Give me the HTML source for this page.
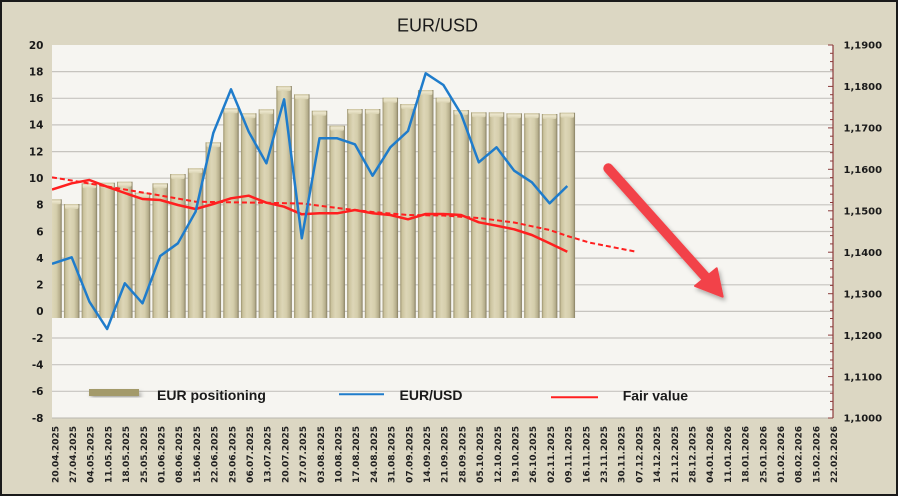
<!DOCTYPE html>
<html><head><meta charset="utf-8">
<style>
html,body{margin:0;padding:0;background:#ffffff;}
svg{display:block;}
text{font-family:"DejaVu Sans","Liberation Sans",sans-serif;}
</style></head>
<body>
<svg width="900" height="498" viewBox="0 0 900 498" xmlns="http://www.w3.org/2000/svg">
<defs>
<linearGradient id="bg" x1="0" y1="0" x2="1" y2="0">
<stop offset="0" stop-color="#9a916c"/>
<stop offset="0.12" stop-color="#cbc39e"/>
<stop offset="0.38" stop-color="#ddd6b7"/>
<stop offset="0.65" stop-color="#d5ceac"/>
<stop offset="0.88" stop-color="#b6ae8c"/>
<stop offset="1" stop-color="#857e62"/>
</linearGradient>
<linearGradient id="cap" x1="0" y1="0" x2="0" y2="1">
<stop offset="0" stop-color="#c9c19c"/>
<stop offset="0.4" stop-color="#ece6cd"/>
<stop offset="1" stop-color="#d9d2b2"/>
</linearGradient>
<clipPath id="plot"><rect x="52" y="45" width="781" height="373"/></clipPath>
<filter id="sh" x="-20%" y="-20%" width="140%" height="140%">
<feDropShadow dx="2" dy="3" stdDeviation="2" flood-color="#000" flood-opacity="0.3"/>
</filter>
</defs>

<rect x="1" y="1" width="896" height="494" fill="#dcd7c3" stroke="#1a1a1a" stroke-width="2"/>
<text x="437.5" y="31.5" text-anchor="middle" font-family="Liberation Sans, sans-serif" font-size="18" fill="#1a1a1a" style="font-family:'Liberation Sans',sans-serif">EUR/USD</text>

<rect x="52" y="45" width="781" height="373" fill="#f6f5f1"/>
<g stroke="#c6c4bf" stroke-width="1.2">
<line x1="52" x2="833" y1="71.6" y2="71.6"/>
<line x1="52" x2="833" y1="98.3" y2="98.3"/>
<line x1="52" x2="833" y1="124.9" y2="124.9"/>
<line x1="52" x2="833" y1="151.6" y2="151.6"/>
<line x1="52" x2="833" y1="178.2" y2="178.2"/>
<line x1="52" x2="833" y1="204.8" y2="204.8"/>
<line x1="52" x2="833" y1="231.5" y2="231.5"/>
<line x1="52" x2="833" y1="258.1" y2="258.1"/>
<line x1="52" x2="833" y1="284.8" y2="284.8"/>
<line x1="52" x2="833" y1="311.4" y2="311.4"/>
<line x1="52" x2="833" y1="338" y2="338"/>
<line x1="52" x2="833" y1="364.7" y2="364.7"/>
<line x1="52" x2="833" y1="391.3" y2="391.3"/>
</g>
<line x1="52" x2="833" y1="418" y2="418" stroke="#b9b7b0" stroke-width="1"/>

<g clip-path="url(#plot)">
<g fill="url(#bg)">
<rect x="46.25" y="199.3" width="15.5" height="118.7"/>
<rect x="63.95" y="204" width="15.5" height="114"/>
<rect x="81.65" y="183.3" width="15.5" height="134.7"/>
<rect x="99.35" y="182.7" width="15.5" height="135.3"/>
<rect x="117.05" y="181.7" width="15.5" height="136.3"/>
<rect x="134.75" y="192.7" width="15.5" height="125.3"/>
<rect x="152.45" y="183.3" width="15.5" height="134.7"/>
<rect x="170.15" y="174" width="15.5" height="144"/>
<rect x="187.85" y="168.3" width="15.5" height="149.7"/>
<rect x="205.55" y="142.3" width="15.5" height="175.7"/>
<rect x="223.25" y="108.3" width="15.5" height="209.7"/>
<rect x="240.95" y="113.3" width="15.5" height="204.7"/>
<rect x="258.65" y="109.3" width="15.5" height="208.7"/>
<rect x="276.35" y="86" width="15.5" height="232"/>
<rect x="294.05" y="94.3" width="15.5" height="223.7"/>
<rect x="311.75" y="110.7" width="15.5" height="207.3"/>
<rect x="329.45" y="125.7" width="15.5" height="192.3"/>
<rect x="347.15" y="109" width="15.5" height="209"/>
<rect x="364.85" y="109" width="15.5" height="209"/>
<rect x="382.55" y="97.7" width="15.5" height="220.3"/>
<rect x="400.25" y="104" width="15.5" height="214"/>
<rect x="417.95" y="90" width="15.5" height="228"/>
<rect x="435.65" y="97.7" width="15.5" height="220.3"/>
<rect x="453.35" y="110" width="15.5" height="208"/>
<rect x="471.05" y="112.3" width="15.5" height="205.7"/>
<rect x="488.75" y="112.3" width="15.5" height="205.7"/>
<rect x="506.45" y="113.3" width="15.5" height="204.7"/>
<rect x="524.15" y="113.3" width="15.5" height="204.7"/>
<rect x="541.85" y="114" width="15.5" height="204"/>
<rect x="559.55" y="112.7" width="15.5" height="205.3"/>
</g>
<g fill="url(#cap)">
<rect x="47.25" y="199.3" width="13.5" height="5" rx="1.5"/>
<rect x="64.95" y="204" width="13.5" height="5" rx="1.5"/>
<rect x="82.65" y="183.3" width="13.5" height="5" rx="1.5"/>
<rect x="100.35" y="182.7" width="13.5" height="5" rx="1.5"/>
<rect x="118.05" y="181.7" width="13.5" height="5" rx="1.5"/>
<rect x="135.75" y="192.7" width="13.5" height="5" rx="1.5"/>
<rect x="153.45" y="183.3" width="13.5" height="5" rx="1.5"/>
<rect x="171.15" y="174" width="13.5" height="5" rx="1.5"/>
<rect x="188.85" y="168.3" width="13.5" height="5" rx="1.5"/>
<rect x="206.55" y="142.3" width="13.5" height="5" rx="1.5"/>
<rect x="224.25" y="108.3" width="13.5" height="5" rx="1.5"/>
<rect x="241.95" y="113.3" width="13.5" height="5" rx="1.5"/>
<rect x="259.65" y="109.3" width="13.5" height="5" rx="1.5"/>
<rect x="277.35" y="86" width="13.5" height="5" rx="1.5"/>
<rect x="295.05" y="94.3" width="13.5" height="5" rx="1.5"/>
<rect x="312.75" y="110.7" width="13.5" height="5" rx="1.5"/>
<rect x="330.45" y="125.7" width="13.5" height="5" rx="1.5"/>
<rect x="348.15" y="109" width="13.5" height="5" rx="1.5"/>
<rect x="365.85" y="109" width="13.5" height="5" rx="1.5"/>
<rect x="383.55" y="97.7" width="13.5" height="5" rx="1.5"/>
<rect x="401.25" y="104" width="13.5" height="5" rx="1.5"/>
<rect x="418.95" y="90" width="13.5" height="5" rx="1.5"/>
<rect x="436.65" y="97.7" width="13.5" height="5" rx="1.5"/>
<rect x="454.35" y="110" width="13.5" height="5" rx="1.5"/>
<rect x="472.05" y="112.3" width="13.5" height="5" rx="1.5"/>
<rect x="489.75" y="112.3" width="13.5" height="5" rx="1.5"/>
<rect x="507.45" y="113.3" width="13.5" height="5" rx="1.5"/>
<rect x="525.15" y="113.3" width="13.5" height="5" rx="1.5"/>
<rect x="542.85" y="114" width="13.5" height="5" rx="1.5"/>
<rect x="560.55" y="112.7" width="13.5" height="5" rx="1.5"/>
</g>

<polyline fill="none" stroke="#ff1f1f" stroke-width="2" stroke-dasharray="5,3"
points="52,177.3 71.7,180.5 89.4,183.5 107.1,186.5 124.8,189.5 142.5,192.5 160.2,195.5 177.9,198.6 195.6,201.7 231,202.3 266.4,202.8 301.8,203.5 337.2,208 372.6,212 408,215 443.4,215.5 478.8,218 514.2,222.5 549.6,230 567.3,236 590,242.7 636,251.7"/>

<polyline fill="none" stroke="#ff1f1f" stroke-width="2.5" stroke-linejoin="round"
points="52,189.5 71.7,183.3 89.4,180 107.1,186.7 124.8,193 142.5,199 160.2,200 177.9,205 195.6,209 213.3,204 231,198.3 248.7,195.7 266.4,202.7 284.1,206.7 301.8,214.3 319.5,213.3 337.2,213.3 354.9,210 372.6,213.3 390.3,215 408,219.3 425.7,214 443.4,214 461.1,215 478.8,222.3 496.5,225.7 514.2,229.3 531.9,235 549.6,243.3 567.3,251.7"/>

<polyline fill="none" stroke="#1f7ccb" stroke-width="2.5" stroke-linejoin="round"
points="52,263.8 71.7,257.3 89.4,301.7 107.1,329 124.8,283.3 142.5,303.3 160.2,256 177.9,243.3 195.6,211.7 213.3,133 231,89.3 248.7,131.7 266.4,163.3 284.1,99.3 301.8,238.3 319.5,138.3 337.2,138.3 354.9,144.3 372.6,175.7 390.3,147.3 408,131 425.7,73.3 443.4,85 461.1,114 478.8,162.3 496.5,147.3 514.2,170.7 531.9,182.3 549.6,203.3 567.3,186"/>
</g>

<!-- right axis -->
<line x1="833" y1="45" x2="833" y2="418" stroke="#8b3a3a" stroke-width="1.2"/>
<g stroke="#8b3a3a" stroke-width="1">
<line x1="828" x2="833" y1="45" y2="45"/><line x1="830" x2="833" y1="53.3" y2="53.3"/><line x1="830" x2="833" y1="61.6" y2="61.6"/><line x1="830" x2="833" y1="69.9" y2="69.9"/><line x1="830" x2="833" y1="78.2" y2="78.2"/>
<line x1="828" x2="833" y1="86.4" y2="86.4"/><line x1="830" x2="833" y1="94.7" y2="94.7"/><line x1="830" x2="833" y1="103" y2="103"/><line x1="830" x2="833" y1="111.3" y2="111.3"/><line x1="830" x2="833" y1="119.6" y2="119.6"/>
<line x1="828" x2="833" y1="127.9" y2="127.9"/><line x1="830" x2="833" y1="136.2" y2="136.2"/><line x1="830" x2="833" y1="144.5" y2="144.5"/><line x1="830" x2="833" y1="152.7" y2="152.7"/><line x1="830" x2="833" y1="161" y2="161"/>
<line x1="828" x2="833" y1="169.3" y2="169.3"/><line x1="830" x2="833" y1="177.6" y2="177.6"/><line x1="830" x2="833" y1="185.9" y2="185.9"/><line x1="830" x2="833" y1="194.2" y2="194.2"/><line x1="830" x2="833" y1="202.5" y2="202.5"/>
<line x1="828" x2="833" y1="210.8" y2="210.8"/><line x1="830" x2="833" y1="219.1" y2="219.1"/><line x1="830" x2="833" y1="227.4" y2="227.4"/><line x1="830" x2="833" y1="235.6" y2="235.6"/><line x1="830" x2="833" y1="243.9" y2="243.9"/>
<line x1="828" x2="833" y1="252.2" y2="252.2"/><line x1="830" x2="833" y1="260.5" y2="260.5"/><line x1="830" x2="833" y1="268.8" y2="268.8"/><line x1="830" x2="833" y1="277.1" y2="277.1"/><line x1="830" x2="833" y1="285.4" y2="285.4"/>
<line x1="828" x2="833" y1="293.7" y2="293.7"/><line x1="830" x2="833" y1="302" y2="302"/><line x1="830" x2="833" y1="310.3" y2="310.3"/><line x1="830" x2="833" y1="318.5" y2="318.5"/><line x1="830" x2="833" y1="326.8" y2="326.8"/>
<line x1="828" x2="833" y1="335.1" y2="335.1"/><line x1="830" x2="833" y1="343.4" y2="343.4"/><line x1="830" x2="833" y1="351.7" y2="351.7"/><line x1="830" x2="833" y1="360" y2="360"/><line x1="830" x2="833" y1="368.3" y2="368.3"/>
<line x1="828" x2="833" y1="376.6" y2="376.6"/><line x1="830" x2="833" y1="384.9" y2="384.9"/><line x1="830" x2="833" y1="393.2" y2="393.2"/><line x1="830" x2="833" y1="401.4" y2="401.4"/><line x1="830" x2="833" y1="409.7" y2="409.7"/>
<line x1="828" x2="833" y1="418" y2="418"/>
</g>

<g font-size="10.5" font-weight="bold" fill="#1a1a1a" text-anchor="end">
<text x="43.5" y="48.8">20</text>
<text x="43.5" y="75.4">18</text>
<text x="43.5" y="102.1">16</text>
<text x="43.5" y="128.7">14</text>
<text x="43.5" y="155.4">12</text>
<text x="43.5" y="182">10</text>
<text x="43.5" y="208.6">8</text>
<text x="43.5" y="235.3">6</text>
<text x="43.5" y="261.9">4</text>
<text x="43.5" y="288.6">2</text>
<text x="43.5" y="315.2">0</text>
<text x="43.5" y="341.8">-2</text>
<text x="43.5" y="368.5">-4</text>
<text x="43.5" y="395.1">-6</text>
<text x="43.5" y="421.8">-8</text>
</g>
<g font-size="10" font-weight="bold" fill="#1a1a1a">
<text x="843.5" y="48.7">1,1900</text>
<text x="843.5" y="90.1">1,1800</text>
<text x="843.5" y="131.6">1,1700</text>
<text x="843.5" y="173">1,1600</text>
<text x="843.5" y="214.5">1,1500</text>
<text x="843.5" y="255.9">1,1400</text>
<text x="843.5" y="297.4">1,1300</text>
<text x="843.5" y="338.8">1,1200</text>
<text x="843.5" y="380.3">1,1100</text>
<text x="843.5" y="421.7">1,1000</text>
</g>

<g font-size="9" font-weight="bold" fill="#222" text-anchor="end">
<text transform="translate(55,426) rotate(-90)" dy=".36em">20.04.2025</text>
<text transform="translate(72.7,426) rotate(-90)" dy=".36em">27.04.2025</text>
<text transform="translate(90.4,426) rotate(-90)" dy=".36em">04.05.2025</text>
<text transform="translate(108.1,426) rotate(-90)" dy=".36em">11.05.2025</text>
<text transform="translate(125.8,426) rotate(-90)" dy=".36em">18.05.2025</text>
<text transform="translate(143.5,426) rotate(-90)" dy=".36em">25.05.2025</text>
<text transform="translate(161.2,426) rotate(-90)" dy=".36em">01.06.2025</text>
<text transform="translate(178.9,426) rotate(-90)" dy=".36em">08.06.2025</text>
<text transform="translate(196.6,426) rotate(-90)" dy=".36em">15.06.2025</text>
<text transform="translate(214.3,426) rotate(-90)" dy=".36em">22.06.2025</text>
<text transform="translate(232,426) rotate(-90)" dy=".36em">29.06.2025</text>
<text transform="translate(249.7,426) rotate(-90)" dy=".36em">06.07.2025</text>
<text transform="translate(267.4,426) rotate(-90)" dy=".36em">13.07.2025</text>
<text transform="translate(285.1,426) rotate(-90)" dy=".36em">20.07.2025</text>
<text transform="translate(302.8,426) rotate(-90)" dy=".36em">27.07.2025</text>
<text transform="translate(320.5,426) rotate(-90)" dy=".36em">03.08.2025</text>
<text transform="translate(338.2,426) rotate(-90)" dy=".36em">10.08.2025</text>
<text transform="translate(355.9,426) rotate(-90)" dy=".36em">17.08.2025</text>
<text transform="translate(373.6,426) rotate(-90)" dy=".36em">24.08.2025</text>
<text transform="translate(391.3,426) rotate(-90)" dy=".36em">31.08.2025</text>
<text transform="translate(409,426) rotate(-90)" dy=".36em">07.09.2025</text>
<text transform="translate(426.7,426) rotate(-90)" dy=".36em">14.09.2025</text>
<text transform="translate(444.4,426) rotate(-90)" dy=".36em">21.09.2025</text>
<text transform="translate(462.1,426) rotate(-90)" dy=".36em">28.09.2025</text>
<text transform="translate(479.8,426) rotate(-90)" dy=".36em">05.10.2025</text>
<text transform="translate(497.5,426) rotate(-90)" dy=".36em">12.10.2025</text>
<text transform="translate(515.2,426) rotate(-90)" dy=".36em">19.10.2025</text>
<text transform="translate(532.9,426) rotate(-90)" dy=".36em">26.10.2025</text>
<text transform="translate(550.6,426) rotate(-90)" dy=".36em">02.11.2025</text>
<text transform="translate(568.3,426) rotate(-90)" dy=".36em">09.11.2025</text>
<text transform="translate(586,426) rotate(-90)" dy=".36em">16.11.2025</text>
<text transform="translate(603.7,426) rotate(-90)" dy=".36em">23.11.2025</text>
<text transform="translate(621.4,426) rotate(-90)" dy=".36em">30.11.2025</text>
<text transform="translate(639.1,426) rotate(-90)" dy=".36em">07.12.2025</text>
<text transform="translate(656.8,426) rotate(-90)" dy=".36em">14.12.2025</text>
<text transform="translate(674.5,426) rotate(-90)" dy=".36em">21.12.2025</text>
<text transform="translate(692.2,426) rotate(-90)" dy=".36em">28.12.2025</text>
<text transform="translate(709.9,426) rotate(-90)" dy=".36em">04.01.2026</text>
<text transform="translate(727.6,426) rotate(-90)" dy=".36em">11.01.2026</text>
<text transform="translate(745.3,426) rotate(-90)" dy=".36em">18.01.2026</text>
<text transform="translate(763,426) rotate(-90)" dy=".36em">25.01.2026</text>
<text transform="translate(780.7,426) rotate(-90)" dy=".36em">01.02.2026</text>
<text transform="translate(798.4,426) rotate(-90)" dy=".36em">08.02.2026</text>
<text transform="translate(816.1,426) rotate(-90)" dy=".36em">15.02.2026</text>
<text transform="translate(833.8,426) rotate(-90)" dy=".36em">22.02.2026</text>
</g>

<!-- legend -->
<rect x="89" y="389" width="50" height="7" fill="#a39a6a" filter="url(#sh)"/>
<g font-size="14" font-weight="bold" fill="#1a1a1a" style="font-family:'Liberation Sans',sans-serif">
<text x="157" y="400" style="font-family:'Liberation Sans',sans-serif">EUR positioning</text>
<text x="399.5" y="400" style="font-family:'Liberation Sans',sans-serif">EUR/USD</text>
<text x="622.7" y="400.5" style="font-family:'Liberation Sans',sans-serif">Fair value</text>
</g>
<line x1="339" y1="394.3" x2="384" y2="394.3" stroke="#1f7ccb" stroke-width="2"/>
<line x1="551" y1="397.3" x2="598" y2="397.3" stroke="#ff1f1f" stroke-width="2"/>

<!-- arrow -->
<g filter="url(#sh)">
<line x1="608.3" y1="168.3" x2="706" y2="277.5" stroke="#f2434a" stroke-width="10" stroke-linecap="round"/>
<polygon points="695,286 716.7,268.3 722.7,296.7" fill="#f2434a" stroke="#f2434a" stroke-width="2" stroke-linejoin="round"/>
</g>
</svg>
</body></html>
